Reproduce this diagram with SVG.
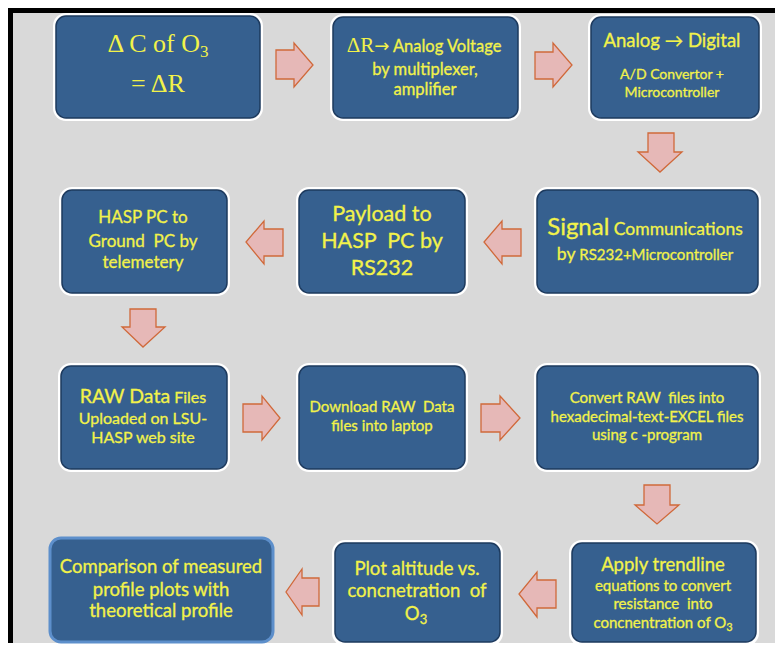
<svg xmlns="http://www.w3.org/2000/svg" width="775" height="645" viewBox="0 0 775 645">
<defs>
<style>
.halo{fill:#ffffff;}
.box{fill:#36608f;stroke:#1d3a5e;stroke-width:1.5;}
.box12{fill:#36608f;stroke:#5d8fcb;stroke-width:3;}
.t{font-family:Lato,"Open Sans","Noto Sans",sans-serif;fill:#f2f24a;stroke:#f2f24a;stroke-width:0.3;text-anchor:middle;}
.s{font-family:"Liberation Serif","DejaVu Serif",serif;fill:#f2f24a;text-anchor:middle;}
.arr{fill:#e6b8b7;stroke:#d0693a;stroke-width:1.3;stroke-linejoin:miter;}
</style>
</defs>
<rect x="0" y="0" width="775" height="645" fill="#ffffff"/>
<rect x="8" y="8" width="767" height="635" fill="#000000"/>
<rect x="13" y="13" width="762" height="630" fill="#d9d9d9"/>

<g id="connectors">
<polygon class="arr" points="276,50 294,50 294,43 313,65 294,87 294,79 276,79"/>
<polygon class="arr" points="535,52 553,52 553,43 572,65 553,87 553,79 535,79"/>
<polygon class="arr" points="648,133 674,133 674,152 682,152 660,172 638,152 648,152"/>
<polygon class="arr" points="521,229 502,229 502,221 484,242 502,264 502,256 521,256"/>
<polygon class="arr" points="283,229 264,229 264,221 246,242 264,264 264,256 283,256"/>
<polygon class="arr" points="130,309 156,309 156,327 165,327 143,347 122,327 130,327"/>
<polygon class="arr" points="243,404 262,404 262,396 280,418 262,440 262,432 243,432"/>
<polygon class="arr" points="481,404 500,404 500,396 520,418 500,440 500,432 481,432"/>
<polygon class="arr" points="644,485 670,485 670,505 679,505 657,524 635,505 644,505"/>
<polygon class="arr" points="556,580 537,580 537,572 519,594 537,617 537,608 556,608"/>
<polygon class="arr" points="319,578 302,578 302,569 286,592 302,615 302,606 319,606"/>
</g>

<g id="node1">
<rect class="halo" x="53" y="13" width="210" height="108" rx="13"/>
<rect class="box" x="56" y="16" width="204" height="102" rx="10"/>
<text class="s" x="158" y="52" font-size="26">Δ C of O<tspan font-size="17" dy="5">3</tspan></text>
<text class="s" x="158" y="92" font-size="26">= ΔR</text>
</g>

<g id="node2">
<rect class="halo" x="330" y="14" width="191" height="107" rx="13"/>
<rect class="box" x="333" y="17" width="185" height="101" rx="10"/>
<text class="t" x="424" y="52"><tspan font-family="Liberation Serif,serif" font-size="21" stroke-width="0">ΔR</tspan><tspan font-family="DejaVu Sans,sans-serif" font-size="18" stroke-width="0">→</tspan><tspan font-size="16.5"> Analog Voltage</tspan></text>
<text class="t" x="425" y="75" font-size="16.5">by multiplexer,</text>
<text class="t" x="425" y="95" font-size="16.5">amplifier</text>
</g>

<g id="node3">
<rect class="halo" x="588" y="14" width="174" height="107" rx="13"/>
<rect class="box" x="591" y="17" width="168" height="101" rx="10"/>
<text class="t" x="672" y="47" font-size="18.5">Analog → Digital</text>
<text class="t" x="672" y="79" font-size="14">A/D Convertor +</text>
<text class="t" x="672" y="97" font-size="14">Microcontroller</text>
</g>

<g id="node4">
<rect class="halo" x="59" y="187" width="171" height="109" rx="13"/>
<rect class="box" x="62" y="190" width="165" height="103" rx="10"/>
<text class="t" x="143" y="223" font-size="17">HASP PC to</text>
<text class="t" x="143" y="247" font-size="17" xml:space="preserve">Ground  PC by</text>
<text class="t" x="143" y="268" font-size="17">telemetery</text>
</g>

<g id="node5">
<rect class="halo" x="296" y="187" width="172" height="109" rx="13"/>
<rect class="box" x="299" y="190" width="166" height="103" rx="10"/>
<text class="t" x="382" y="221" font-size="21.5">Payload to</text>
<text class="t" x="382" y="248" font-size="21.5" xml:space="preserve">HASP  PC by</text>
<text class="t" x="382" y="275" font-size="21.5">RS232</text>
</g>

<g id="node6">
<rect class="halo" x="534" y="187" width="227" height="109" rx="13"/>
<rect class="box" x="537" y="190" width="221" height="103" rx="10"/>
<text class="t" x="645" y="235"><tspan font-size="24">Signal</tspan><tspan font-size="17.5"> Communications</tspan></text>
<text class="t" x="645" y="260"><tspan font-size="17.5">by</tspan><tspan font-size="15"> RS232+Microcontroller</tspan></text>
</g>

<g id="node7">
<rect class="halo" x="58" y="363" width="172" height="109" rx="13"/>
<rect class="box" x="61" y="366" width="166" height="103" rx="10"/>
<text class="t" x="143" y="403"><tspan font-size="19.5">RAW Data</tspan><tspan font-size="16"> Files</tspan></text>
<text class="t" x="143" y="424" font-size="16">Uploaded on LSU-</text>
<text class="t" x="143" y="443" font-size="16">HASP web site</text>
</g>

<g id="node8">
<rect class="halo" x="296" y="363" width="172" height="109" rx="13"/>
<rect class="box" x="299" y="366" width="166" height="103" rx="10"/>
<text class="t" x="382" y="412" font-size="15" xml:space="preserve">Download RAW  Data</text>
<text class="t" x="382" y="431" font-size="15">files into laptop</text>
</g>

<g id="node9">
<rect class="halo" x="534" y="363" width="227" height="109" rx="13"/>
<rect class="box" x="537" y="366" width="221" height="103" rx="10"/>
<text class="t" x="647" y="403" font-size="15" xml:space="preserve">Convert RAW  files into</text>
<text class="t" x="647" y="422" font-size="15">hexadecimal-text-EXCEL files</text>
<text class="t" x="647" y="440" font-size="15">using c -program</text>
</g>

<g id="node10">
<rect class="halo" x="569" y="540" width="190" height="106" rx="13"/>
<rect class="box" x="572" y="543" width="184" height="99" rx="10"/>
<text class="t" x="663" y="571" font-size="18.5">Apply trendline</text>
<text class="t" x="663" y="591" font-size="15">equations to convert</text>
<text class="t" x="663" y="609" font-size="15" xml:space="preserve">resistance  into</text>
<text class="t" x="663" y="628" font-size="15">concnentration of O<tspan font-size="11" dy="3">3</tspan></text>
</g>

<g id="node11">
<rect class="halo" x="332" y="540" width="171" height="106" rx="13"/>
<rect class="box" x="335" y="543" width="165" height="99" rx="10"/>
<text class="t" x="417" y="575" font-size="18.5">Plot altitude vs.</text>
<text class="t" x="417" y="597" font-size="18.5" xml:space="preserve">concnetration  of</text>
<text class="t" x="416" y="620" font-size="18.5">O<tspan font-size="13" dy="4">3</tspan></text>
</g>

<g id="node12">
<rect class="box12" x="50" y="538" width="223" height="104" rx="11"/>
<text class="t" x="161" y="573" font-size="18.5">Comparison of measured</text>
<text class="t" x="161" y="596" font-size="18.5">profile plots with</text>
<text class="t" x="161" y="617" font-size="18.5">theoretical profile</text>
</g>
</svg>
